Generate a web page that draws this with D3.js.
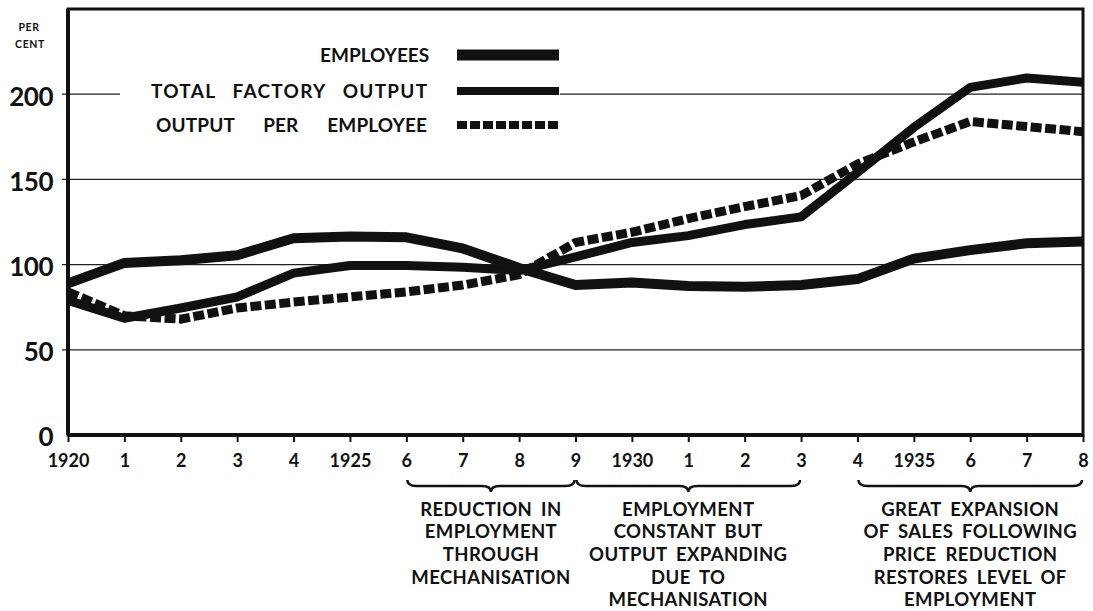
<!DOCTYPE html>
<html>
<head>
<meta charset="utf-8">
<script src="https://cdn.jsdelivr.net/npm/d3@7"></script>
<style>
  body { margin: 0; background: #fff; }
  text { font-family: Lato, "Open Sans", sans-serif; font-weight: 700; fill: #111; }
</style>
</head>
<body>
<div id="chart"></div>
<script>
// data (per cent)
const years = d3.range(1920, 1939);
const yearLabels = ["1920", "1", "2", "3", "4", "1925", "6", "7", "8", "9",
                    "1930", "1", "2", "3", "4", "1935", "6", "7", "8"];
const employees = [89, 101, 102.5, 105.5, 115.5, 116.5, 116, 109.5, 98,
                   88, 89.5, 87.5, 87, 88, 91.5, 103.5, 108.5, 112.5, 113.5];
const totalOutput = [79, 68.5, 74.5, 81, 95, 99.5, 99.5, 98.5, 96.5,
                     104.5, 113, 117, 123.5, 128, 154, 180.5, 204, 209.5, 207];
const outputPerEmployee = [84, 70, 68, 74.5, 78, 81, 84, 88, 94,
                           113, 119, 127, 134, 140.5, 159, 172, 184, 181, 178];
const yTicks = [0, 50, 100, 150, 200];
const legendNames = ["EMPLOYEES", "TOTAL FACTORY OUTPUT", "OUTPUT PER EMPLOYEE"];
const groups = [
  { from: 1926, to: 1929, lines: ["REDUCTION IN", "EMPLOYMENT", "THROUGH", "MECHANISATION"] },
  { from: 1929, to: 1933, lines: ["EMPLOYMENT", "CONSTANT BUT", "OUTPUT EXPANDING", "DUE TO", "MECHANISATION"] },
  { from: 1934, to: 1938, lines: ["GREAT EXPANSION", "OF SALES FOLLOWING", "PRICE REDUCTION", "RESTORES LEVEL OF", "EMPLOYMENT"] }
];

const width = 1093, height = 611;
const margin = { top: 9, right: 10, bottom: 176, left: 68 };

const x = d3.scaleLinear()
    .domain([1920, 1938])
    .range([margin.left, width - margin.right]);

const y = d3.scaleLinear()
    .domain([0, 250])
    .range([height - margin.bottom, margin.top]);

const svg = d3.select("#chart")
    .append("svg")
    .attr("width", width)
    .attr("height", height);

// grid lines
svg.append("g")
    .selectAll("line")
    .data(yTicks.filter(d => d > 0))
    .join("line")
    .attr("x1", x(1920) - 6)
    .attr("x2", x(1938))
    .attr("y1", d => y(d))
    .attr("y2", d => y(d))
    .attr("stroke", "#222")
    .attr("stroke-width", 1.2);

// white patch behind legend (breaks the 200 line as in the original)
svg.append("rect")
    .attr("x", 120).attr("y", 38)
    .attr("width", 440).attr("height", 100)
    .attr("fill", "#fff");

// y labels
svg.append("g")
    .selectAll("text")
    .data(yTicks)
    .join("text")
    .attr("x", 53)
    .attr("y", d => y(d) + 2)
    .attr("dy", "0.36em")
    .attr("text-anchor", "end")
    .attr("font-size", "26px")
    .attr("letter-spacing", "-0.5")
    .text(d => d);

svg.append("text").attr("x", 29).attr("y", 27).attr("dy", "0.36em").attr("text-anchor", "middle")
    .attr("font-size", "10.5px").attr("letter-spacing", "0.6").text("PER");
svg.append("text").attr("x", 30).attr("y", 44).attr("dy", "0.36em").attr("text-anchor", "middle")
    .attr("font-size", "10.5px").attr("letter-spacing", "0.6").text("CENT");

// x axis ticks and labels
const xAxis = g => g
    .attr("transform", `translate(0, ${y(0)})`)
    .call(d3.axisBottom(x).tickValues(years).tickSize(7).tickSizeOuter(0)
        .tickFormat((d, i) => yearLabels[i]))
    .call(g => g.select(".domain").remove())
    .call(g => g.selectAll(".tick line").attr("stroke", "#111").attr("stroke-width", 2))
    .call(g => g.selectAll(".tick text")
        .attr("font-size", "18px")
        .attr("font-family", "Lato, sans-serif")
        .attr("font-weight", 700)
        .attr("fill", "#111")
        .attr("y", 26)
        .attr("dy", "0.36em"));

svg.append("g").call(xAxis);

// lines
const line = d3.line()
    .x((d, i) => x(years[i]))
    .y(d => y(d));

svg.append("path")
    .datum(outputPerEmployee)
    .attr("fill", "none")
    .attr("stroke", "#111")
    .attr("stroke-width", 9)
    .attr("stroke-dasharray", "11,3.5")
    .attr("d", line);

svg.append("path")
    .datum(totalOutput)
    .attr("fill", "none")
    .attr("stroke", "#111")
    .attr("stroke-width", 9)
    .attr("stroke-linejoin", "round")
    .attr("d", line);

svg.append("path")
    .datum(employees)
    .attr("fill", "none")
    .attr("stroke", "#111")
    .attr("stroke-width", 10)
    .attr("stroke-linejoin", "round")
    .attr("d", line);

// frame
svg.append("rect")
    .attr("x", x(1920)).attr("y", y(250))
    .attr("width", x(1938) - x(1920)).attr("height", y(0) - y(250))
    .attr("fill", "none")
    .attr("stroke", "#111")
    .attr("stroke-width", 3);
svg.append("line")
    .attr("x1", x(1920)).attr("x2", x(1938))
    .attr("y1", y(0)).attr("y2", y(0))
    .attr("stroke", "#111").attr("stroke-width", 4);
svg.append("line")
    .attr("x1", x(1920)).attr("x2", x(1920))
    .attr("y1", y(250)).attr("y2", y(0))
    .attr("stroke", "#111").attr("stroke-width", 4);

// stretch a text so it runs from its x to the given right edge
function fitTo(sel, right) {
  sel.each(function() {
    const t = d3.select(this);
    const left = +t.attr("x");
    const n = this.textContent.length;
    const L = this.getComputedTextLength();
    const ls = Math.max(0, (right - left - L) / (n - 1));
    t.attr("letter-spacing", ls.toFixed(2));
  });
}

// legend
const legendY = [55, 91, 125];
const legendLeft = [320, 151, 156];
const legend = svg.append("g");
legend.selectAll("text")
    .data(legendNames)
    .join("text")
    .attr("x", (d, i) => legendLeft[i])
    .attr("y", (d, i) => legendY[i])
    .attr("dy", "0.36em")
    .attr("font-size", "19px")
    .attr("word-spacing", (d, i) => i === 2 ? 24 : 11)
    .text(d => d)
    .call(fitTo, 427);

const swatch = [
  { w: 11, dash: null },
  { w: 8, dash: null },
  { w: 8, dash: "10,3" }
];
legend.selectAll("line")
    .data(swatch)
    .join("line")
    .attr("x1", 457).attr("x2", 559)
    .attr("y1", (d, i) => legendY[i])
    .attr("y2", (d, i) => legendY[i])
    .attr("stroke", "#111")
    .attr("stroke-width", d => d.w)
    .attr("stroke-linecap", "butt")
    .attr("stroke-dasharray", d => d.dash);

// braces and notes
function brace(x1, x2, y0) {
  const p = d3.path();
  const m = (x1 + x2) / 2, h = 6, r = 9;
  p.moveTo(x1, y0);
  p.quadraticCurveTo(x1, y0 + h, x1 + r, y0 + h);
  p.lineTo(m - r, y0 + h);
  p.quadraticCurveTo(m, y0 + h, m, y0 + h + 6);
  p.quadraticCurveTo(m, y0 + h, m + r, y0 + h);
  p.lineTo(x2 - r, y0 + h);
  p.quadraticCurveTo(x2, y0 + h, x2, y0);
  return p.toString();
}

const notes = svg.append("g");
notes.selectAll("path")
    .data(groups)
    .join("path")
    .attr("d", d => brace(x(d.from) + 1, x(d.to) - 1, 480))
    .attr("fill", "none")
    .attr("stroke", "#111")
    .attr("stroke-width", 2.5);

groups.forEach(g => {
  notes.append("g")
    .selectAll("text")
    .data(g.lines)
    .join("text")
    .attr("x", (x(g.from) + x(g.to)) / 2)
    .attr("y", (d, i) => 509 + i * 22.7)
    .attr("dy", "0.36em")
    .attr("text-anchor", "middle")
    .attr("font-size", "18.5px")
    .attr("letter-spacing", "0.4")
    .attr("word-spacing", "4")
    .text(d => d);
});
</script>
</body>
</html>
